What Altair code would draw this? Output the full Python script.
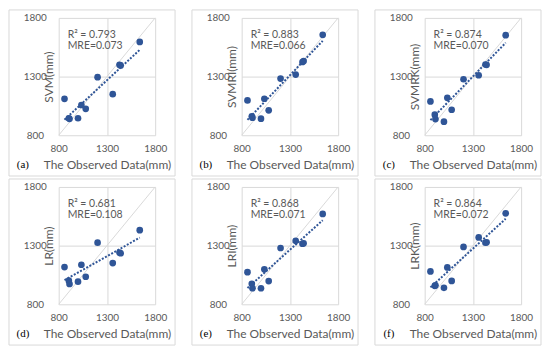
import altair as alt
import pandas as pd

# Observed data (mm), shared x values of every panel
observed = [860, 905, 912, 1000, 1035, 1080, 1203, 1360, 1430, 1442, 1640]

models = ["SVM", "SVMRI", "SVMRK", "LR", "LRI", "LRK"]
tags = ["(a)", "(b)", "(c)", "(d)", "(e)", "(f)"]
r2_values = ["0.793", "0.883", "0.874", "0.681", "0.868", "0.864"]
mre_values = ["0.073", "0.066", "0.070", "0.108", "0.071", "0.072"]

svm = [1110, 945, 940, 945, 1058, 1025, 1295, 1150, 1400, 1395, 1595]
svmri = [1097, 961, 950, 941, 1111, 1012, 1283, 1317, 1424, 1433, 1656]
svmrk = [1088, 975, 938, 916, 1119, 1017, 1277, 1311, 1402, 1400, 1653]
lr = [1117, 1001, 973, 993, 1137, 1035, 1325, 1151, 1241, 1235, 1432]
lri = [1074, 974, 937, 937, 1098, 998, 1280, 1341, 1316, 1320, 1570]
lrk = [1080, 957, 962, 940, 1114, 999, 1289, 1370, 1325, 1328, 1575]
predicted = [svm, svmri, svmrk, lr, lri, lrk]

axis_ticks = [800, 1300, 1800]
domain = [800, 1800]

W, H = 97, 118
BLUE = "#2F5597"
GRID = "#D9D9D9"
TXT = "#595959"
FONT = "Lato"


def panel(i):
    df = pd.DataFrame({"obs": observed, "pred": predicted[i]})
    diag = pd.DataFrame({"obs": domain, "pred": domain})
    one = pd.DataFrame({"k": [0]})

    xs = alt.Scale(domain=domain, nice=False, zero=False)
    ys = alt.Scale(domain=domain, nice=False, zero=False)
    xaxis = alt.Axis(values=axis_ticks, format="d", title="The Observed Data(mm)", grid=True,
                     labelFlush=False, labelPadding=8, titleY=33, titleBaseline="alphabetic")
    yaxis = alt.Axis(values=axis_ticks, format="d", title=f"{models[i]}(mm)", grid=True,
                     labelFlush=False, labelAlign="center", labelPadding=24, titleX=-3,
                     titleY=H / 2, titleBaseline="bottom")
    x_enc = alt.X("obs:Q", scale=xs, axis=xaxis)
    y_enc = alt.Y("pred:Q", scale=ys, axis=yaxis)

    border = alt.Chart(one).mark_rect(fillOpacity=0, stroke=GRID, strokeWidth=1).encode(
        x=alt.value(-50), x2=alt.value(W + 20), y=alt.value(-8), y2=alt.value(H + 41)
    )
    line11 = alt.Chart(diag).mark_line(color=GRID, strokeWidth=1).encode(x=x_enc, y=y_enc)
    pts = alt.Chart(df).mark_circle(size=45, color=BLUE, opacity=1).encode(x=x_enc, y=y_enc)
    trend = alt.Chart(df).transform_regression("obs", "pred").mark_line(
        color=BLUE, strokeDash=[2, 1.6], strokeWidth=2
    ).encode(x=x_enc, y=y_enc)
    t1 = alt.Chart(one).mark_text(align="left", baseline="alphabetic", fontSize=10.5,
                                  color=TXT, font=FONT).encode(
        x=alt.value(9), y=alt.value(20), text=alt.value(f"R\u00b2 = {r2_values[i]}"))
    t2 = alt.Chart(one).mark_text(align="left", baseline="alphabetic", fontSize=10.5,
                                  color=TXT, font=FONT).encode(
        x=alt.value(9), y=alt.value(31), text=alt.value(f"MRE={mre_values[i]}"))
    tag = alt.Chart(one).mark_text(align="center", baseline="alphabetic", fontSize=11,
                                   color="#000000", font="Liberation Serif").encode(
        x=alt.value(-36), y=alt.value(H + 33), text=alt.value(tags[i]))

    return alt.layer(border, line11, trend, pts, t1, t2, tag).properties(width=W, height=H)


chart = alt.concat(
    *[panel(i) for i in range(6)],
    columns=3,
    spacing=alt.RowColnumber(row=52, column=87),
    bounds="flush",
).properties(padding=0).configure_view(strokeWidth=0).configure_axis(
    gridColor=GRID, gridWidth=1, domain=False, ticks=False,
    labelColor=TXT, titleColor=TXT, labelFont=FONT, titleFont=FONT,
    labelFontSize=10, titleFontSize=12, titleFontWeight="normal",
)

chart.save("out.html", embed_options={"renderer": "svg", "actions": False})
